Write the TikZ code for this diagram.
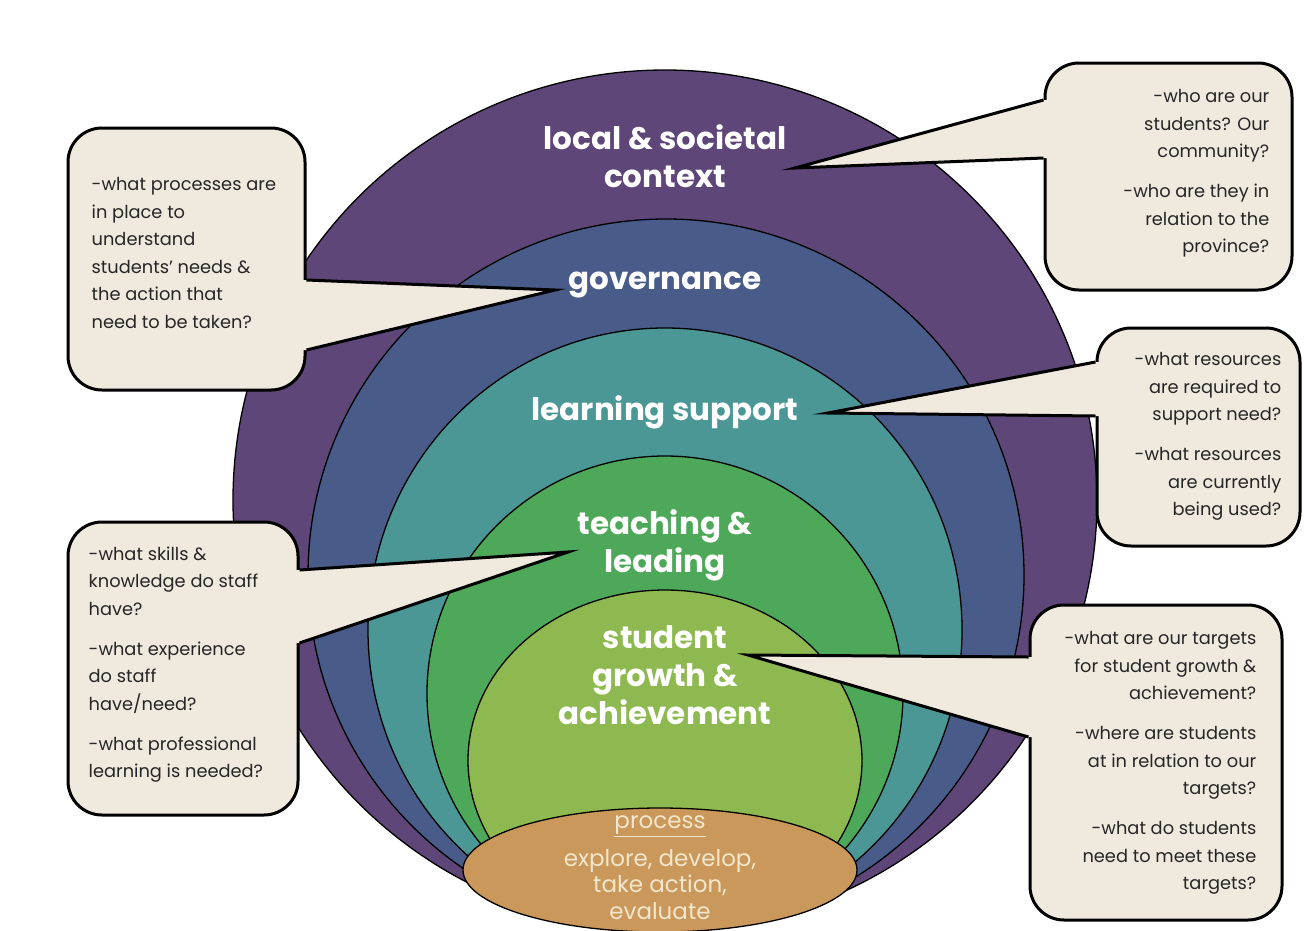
\documentclass[tikz,border=0pt]{standalone}
\usepackage{fontspec}
\setmainfont{Poppins}
\usetikzlibrary{positioning, shapes.geometric, calc}

\definecolor{ctxpurple}{HTML}{5E4678}
\definecolor{govblue}{HTML}{485B89}
\definecolor{supteal}{HTML}{4A9796}
\definecolor{teachgreen}{HTML}{4EA85A}
\definecolor{growthgreen}{HTML}{8EB950}
\definecolor{procbrown}{HTML}{C9985A}
\definecolor{proctext}{HTML}{F2E6CC}
\definecolor{cream}{HTML}{F0E9DE}
\definecolor{asktxt}{HTML}{262626}

\tikzset{
  layer/.style={draw=black, line width=1.3pt},
  bubble/.style={draw=black, line width=3pt, fill=cream, rounded corners=34pt, inner sep=0pt},
  wedge/.style={draw=black, line width=3pt, line join=miter, miter limit=40},
  asktext/.style={inner sep=0pt, text=asktxt, font=\fontsize{17.8}{27.5}\selectfont},
  ringlabel/.style={text=white, align=center, inner sep=0pt, font=\fontsize{31}{38}\selectfont\bfseries},
}

\begin{document}
\begin{tikzpicture}[x=1pt, y=-1pt]
  \clip (0,0) rectangle (1304,930);
  \fill[white] (0,0) rectangle (1304,930);

  % nested rings, outer to inner, all meeting near the bottom
  \draw[layer, fill=ctxpurple] (665,500) ellipse [x radius=432, y radius=430];
  \draw[layer, fill=govblue] (666,575) ellipse [x radius=358, y radius=356];
  \draw[layer, fill=supteal] (665,630) ellipse [x radius=297, y radius=302];
  \draw[layer, fill=teachgreen] (665,693.5) ellipse [x radius=238, y radius=237.5];
  \draw[layer, fill=growthgreen] (665,760.5) ellipse [x radius=197, y radius=170.5];
  % process disc at the base
  \node[ellipse, layer, fill=procbrown, minimum width=394pt, minimum height=124pt] (proc) at (660,870) {};

  % question boxes
  \node[bubble, minimum width=247pt, minimum height=227pt] (boxctx) at (1168.5,176.5) {};
  \node[bubble, minimum width=237pt, minimum height=262pt] (boxgov) at (186.5,259) {};
  \node[bubble, minimum width=203pt, minimum height=218pt] (boxsup) at (1198.5,437) {};
  \node[bubble, minimum width=230pt, minimum height=293pt] (boxteach) at (183,668.5) {};
  \node[bubble, minimum width=252pt, minimum height=315pt] (boxgrowth) at (1156,762.5) {};

  % wedge tips and where they leave the boxes
  \coordinate (tipctx) at (795,168);
  \coordinate (ctxa) at (boxctx.west |- 0,100);
  \coordinate (ctxb) at (boxctx.west |- 0,158);
  \coordinate (tipgov) at (555,290);
  \coordinate (gova) at (boxgov.east |- 0,280);
  \coordinate (govb) at (boxgov.east |- 0,350);
  \coordinate (tipsup) at (828,413);
  \coordinate (supa) at (boxsup.west |- 0,362);
  \coordinate (supb) at (boxsup.west |- 0,416);
  \coordinate (tipteach) at (568,552);
  \coordinate (teacha) at (boxteach.east |- 0,570);
  \coordinate (teachb) at (boxteach.east |- 0,643);
  \coordinate (tipgrowth) at (748,655);
  \coordinate (growtha) at (boxgrowth.west |- 0,657);
  \coordinate (growthb) at (boxgrowth.west |- 0,737);

  % wedges: fill over the box border, then outline the two sides
  \fill[cream] (ctxa) -- (tipctx) -- (ctxb) -- ($(ctxb)+(5,0)$) -- ($(ctxa)+(5,0)$) -- cycle;
  \draw[wedge] (ctxa) -- (tipctx) -- (ctxb);
  \fill[cream] (gova) -- (tipgov) -- (govb) -- ($(govb)+(-5,0)$) -- ($(gova)+(-5,0)$) -- cycle;
  \draw[wedge] (gova) -- (tipgov) -- (govb);
  \fill[cream] (supa) -- (tipsup) -- (supb) -- ($(supb)+(5,0)$) -- ($(supa)+(5,0)$) -- cycle;
  \draw[wedge] (supa) -- (tipsup) -- (supb);
  \fill[cream] (teacha) -- (tipteach) -- (teachb) -- ($(teachb)+(-5,0)$) -- ($(teacha)+(-5,0)$) -- cycle;
  \draw[wedge] (teacha) -- (tipteach) -- (teachb);
  \fill[cream] (growtha) -- (tipgrowth) -- (growthb) -- ($(growthb)+(5,0)$) -- ($(growtha)+(5,0)$) -- cycle;
  \draw[wedge] (growtha) -- (tipgrowth) -- (growthb);

  % ring names
  \node[ringlabel] (lblctx) at (665,156) {local \& societal\\context};
  \node[ringlabel] (lblgov) at (665,285) {governance};
  \node[ringlabel] (lblsup) at (665,412) {learning support};
  \node[ringlabel] (lblteach) at (665,545) {teaching \&\\leading};
  \node[ringlabel] (lblgrowth) at (665,675) {student\\growth \&\\achievement};
  \node[align=center, text=proctext, inner sep=0pt, font=\fontsize{23}{26.5}\selectfont] (proctxt) at (660,867.5)
    {\underline{process}\\[11pt]explore, develop,\\take action,\\evaluate};

  % questions in the boxes
  \node[asktext, align=right, below left=28pt and 24pt of boxctx.north east] (askctx)
    {-who are our\\students? Our\\community?\\[12.5pt]-who are they in\\relation to the\\province?};
  \node[asktext, align=left, below right=51pt and 25pt of boxgov.north west] (askgov)
    {-what processes are\\in place to\\understand\\students’ needs \&\\the action that\\need to be taken?};
  \node[asktext, align=right, below left=26pt and 20pt of boxsup.north east] (asksup)
    {-what resources\\are required to\\support need?\\[12.5pt]-what resources\\are currently\\being used?};
  \node[asktext, align=left, below right=26pt and 22pt of boxteach.north west] (askteach)
    {-what skills \&\\knowledge do staff\\have?\\[12.5pt]-what experience\\do staff\\have/need?\\[12.5pt]-what professional\\learning is needed?};
  \node[asktext, align=right, below left=28pt and 27pt of boxgrowth.north east] (askgrowth)
    {-what are our targets\\for student growth \&\\achievement?\\[12.5pt]-where are students\\at in relation to our\\targets?\\[12.5pt]-what do students\\need to meet these\\targets?};
\end{tikzpicture}
\end{document}
